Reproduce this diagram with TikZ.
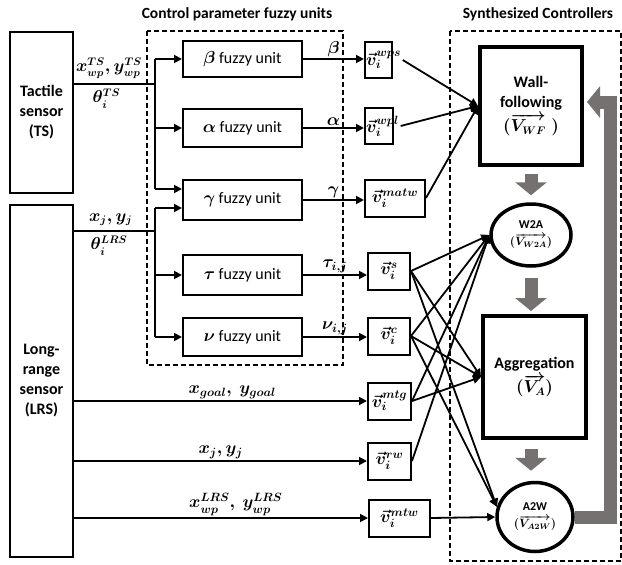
\documentclass[tikz,border=0pt]{standalone}
\usepackage{fontspec}
\setmainfont{Carlito}
\usetikzlibrary{arrows.meta,shapes.geometric}
\definecolor{flowgray}{RGB}{118,113,113}

\begin{document}
\begin{tikzpicture}[x=1pt, y=-1pt,
		font=\fontsize{16}{20}\selectfont,
		wire/.style={line width=1.8pt},
		arrow/.style={-{Triangle[length=8pt,width=8pt]}, line width=1.8pt},
		flow/.style={draw=flowgray, line width=13pt, -{Triangle[length=13pt,width=31pt]}},
		group/.style={draw, line width=1.5pt, dash pattern=on 5pt off 3pt},
		title/.style={font=\bfseries\fontsize{15.5}{18}\selectfont},
		sensor/.style={draw, line width=2.5pt, minimum width=63pt, inner sep=0pt,
			align=center, font=\bfseries\fontsize{16}{20}\selectfont},
		fuzzy/.style={draw, line width=2pt, minimum width=119pt, minimum height=36pt,
			inner sep=0pt, font=\boldmath\fontsize{16}{20}\selectfont},
		vbox/.style={draw, line width=2pt, minimum height=37pt, inner sep=1pt,
			font=\boldmath\fontsize{18}{22}\selectfont},
		lbl/.style={inner sep=1.5pt, font=\boldmath\fontsize{18}{22}\selectfont},
		slbl/.style={inner sep=4pt, font=\boldmath\fontsize{16}{20}\selectfont},
		ctrl/.style={draw, line width=4pt, align=center,
			font=\bfseries\boldmath\fontsize{16}{20}\selectfont},
		mode/.style={ellipse, draw, line width=3.5pt, inner sep=0pt, align=center,
			font=\bfseries\boldmath\fontsize{12}{15}\selectfont}
		]
		\useasboundingbox (0,0) rectangle (622,565);
		
		% ---- Sensors ----
		\node[sensor, minimum height=161pt] (ts)  at (41.5,112.5) {Tactile\\sensor\\(TS)};
		\node[sensor, minimum height=352pt] (lrs) at (41.5,381)   {Long-\\range\\sensor\\(LRS)};
		
		% ---- Group frames and titles ----
		\draw[group] (147,31) rectangle (343,365);
		\draw[group] (450,31) rectangle (621,561);
		\node[title] (cptitle) at (237,14) {Control parameter fuzzy units};
		\node[title] (sctitle) at (538,14) {Synthesized Controllers};
		
		% ---- Fuzzy units ----
		\node[fuzzy]                     (beta)  at (242.5,59)  {$\beta$ fuzzy unit};
		\node[fuzzy, minimum height=38pt] (alpha) at (242.5,128) {$\alpha$ fuzzy unit};
		\node[fuzzy, minimum height=40pt] (gamma) at (242.5,200) {$\gamma$ fuzzy unit};
		\node[fuzzy, minimum height=40pt] (tau)   at (242.5,275) {$\tau$ fuzzy unit};
		\node[fuzzy, minimum height=38pt] (nu)    at (242.5,337) {$\nu$ fuzzy unit};
		
		% ---- Velocity vectors ----
		\node[vbox, minimum width=27pt, minimum height=36pt] (vwps) at (378.5,60) {};
		\node[lbl, anchor=west] (vwpst) at ([xshift=0.5pt]vwps.west) {$\vec{v}_i^{wps}$};
		\node[vbox, minimum width=28pt, minimum height=36pt] (vwpl) at (379,126) {};
		\node[lbl, anchor=west] (vwplt) at ([xshift=0.5pt]vwpl.west) {$\vec{v}_i^{wpl}$};
		\node[vbox, minimum width=60pt] (vmatw) at (395,198)   {$\vec{v}_i^{matw}$};
		\node[vbox, minimum width=42pt] (vs)    at (389,271)   {$\vec{v}_i^{s}$};
		\node[vbox, minimum width=42pt] (vc)    at (389,336)   {$\vec{v}_i^{c}$};
		\node[vbox, minimum width=43pt] (vmtg)  at (389.5,401) {$\vec{v}_i^{mtg}$};
		\node[vbox, minimum width=43pt] (vrw)   at (389.5,461) {$\vec{v}_i^{rw}$};
		\node[vbox, minimum width=61pt] (vmtw)  at (399.5,518) {$\vec{v}_i^{mtw}$};
		
		% ---- Controllers ----
		\node[ctrl, minimum width=102pt, minimum height=118pt] (wf) at (531,106)
		{Wall-\\following\\[3pt]$(\overrightarrow{V_{WF}}\;)$};
		\node[mode, minimum width=80pt, minimum height=62pt] (w2a) at (531,235)
		{W2A\\[2pt]$(\overrightarrow{V_{W2A}})$};
		\node[ctrl, minimum width=103pt, minimum height=122pt] (agg) at (534.5,377)
		{Aggregation\\[3pt]$(\overrightarrow{V_{A}})$};
		\node[mode, minimum width=76pt, minimum height=69pt] (a2w) at (535,517)
		{A2W\\[2pt]$(\overrightarrow{V_{A2W}})$};
		
		% ---- Sensor buses ----
		\coordinate (tsj)  at (155,84);
		\coordinate (lrsj) at (155,231);
		\coordinate (gin1) at ([yshift=11pt]gamma.west);
		\coordinate (gin2) at ([yshift=-8pt]gamma.west);
		
		\draw[wire] (ts.east |- tsj) -- (tsj)
		node[slbl, pos=0.43, above] {$x_{wp}^{TS}, y_{wp}^{TS}$}
		node[slbl, pos=0.4, below] {$\theta_i^{TS}$};
		\draw[wire] (tsj |- beta.west) -- (tsj |- gin1);
		\draw[arrow] (tsj |- beta.west) -- (beta.west);
		\draw[arrow] (tsj |- alpha.west) -- (alpha.west);
		\draw[arrow] (tsj |- gin1) -- (gin1);
		
		\draw[wire] (lrs.east |- lrsj) -- (lrsj)
		node[slbl, pos=0.45, above] {$x_j, y_j$}
		node[slbl, pos=0.43, below] {$\theta_i^{LRS}$};
		\draw[wire] (lrsj |- gin2) -- (lrsj |- nu.west);
		\draw[arrow] (lrsj |- gin2) -- (gin2);
		\draw[arrow] (lrsj |- tau.west) -- (tau.west);
		\draw[arrow] (lrsj |- nu.west) -- (nu.west);
		
		% ---- Fuzzy units -> vectors ----
		\draw[arrow] (beta.east) -- (beta.east -| vwps.west) node[lbl, midway, above] {$\beta$};
		\draw[arrow] (alpha.east) -- (alpha.east -| vwpl.west) node[lbl, midway, above] {$\alpha$};
		\draw[arrow] (gamma.east) -- (gamma.east -| vmatw.west) node[lbl, midway, above] {$\gamma$};
		\draw[arrow] (tau.east) -- (tau.east -| vs.west) node[lbl, midway, above] {$\tau_{i,j}$};
		\draw[arrow] (nu.east) -- (nu.east -| vc.west) node[lbl, midway, above] {$\nu_{i,j}$};
		
		% ---- Long-range sensor -> vectors ----
		\draw[arrow] (lrs.east |- vmtg.west) -- (vmtg.west)
		node[lbl, pos=0.54, above] {$x_{goal},\ y_{goal}$};
		\draw[arrow] (lrs.east |- vrw.west) -- (vrw.west)
		node[lbl, pos=0.5, above] {$x_j, y_j$};
		\draw[arrow] (lrs.east |- vmtw.west) -- (vmtw.west)
		node[lbl, pos=0.55, above] {$x_{wp}^{LRS},\ y_{wp}^{LRS}$};
		
		% ---- Vectors -> controllers ----
		\foreach \src in {vwpst, vwplt, vmatw}
		\draw[arrow] (\src.east) -- (wf.west);
		\foreach \src in {vs, vc, vmtg, vrw}
		\draw[arrow] (\src.east) -- (w2a.west);
		\foreach \src in {vs, vc, vmtg}
		\draw[arrow] (\src.east) -- (agg.west);
		\foreach \src in {vs, vc}
		\draw[arrow] (\src.east) -- (a2w.165);
		\draw[arrow] (vmtw.east) -- (a2w.west);
		
		% ---- Switching between controllers ----
		\draw[flow, shorten <=7pt, shorten >=7pt] (wf.south) -- (w2a.north);
		\draw[flow, shorten <=10pt, shorten >=3pt] (w2a.south) -- (w2a.south |- agg.north);
		\draw[flow, shorten <=9pt, shorten >=10pt] (w2a.south |- agg.south) -- (w2a.south |- a2w.north);
		\draw[flow, line join=miter, shorten >=3pt] (a2w.east) -- ++(36,0) |- ([yshift=4pt]wf.east);
	\end{tikzpicture}
\end{document}
